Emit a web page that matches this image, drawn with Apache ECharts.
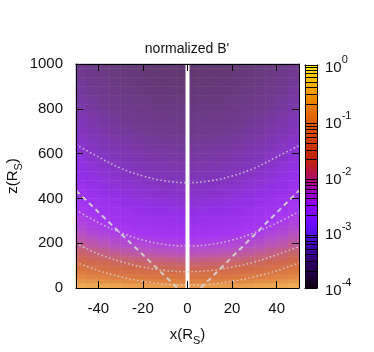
<!DOCTYPE html>
<html>
<head>
<meta charset="utf-8">
<script src="https://cdn.jsdelivr.net/npm/echarts@6/dist/echarts.min.js"></script>
<style>
  html, body { margin: 0; padding: 0; background: #fff; }
  #chart { width: 374px; height: 352px; }
</style>
</head>
<body>
<div id="chart"></div>
<script>
// heatmap cell centres (x in R_S, z in R_S)
let cellX = [-47.5, -42.5, -37.5, -32.5, -27.5, -22.5, -17.5, -12.5, -7.5, -2.5,
    2.5, 7.5, 12.5, 17.5, 22.5, 27.5, 32.5, 37.5, 42.5, 47.5];
// lift of log10(B') away from the axis, per column
let colLift = [0.24, 0.19, 0.15, 0.11, 0.08, 0.055, 0.035, 0.02, 0.008, 0.0,
    0.0, 0.008, 0.02, 0.035, 0.055, 0.08, 0.11, 0.15, 0.19, 0.24];
let cellZ = [10, 30, 50, 70, 90, 110, 130, 150, 170, 190,
    210, 230, 250, 270, 290, 310, 330, 350, 370, 390,
    410, 430, 450, 470, 490, 510, 530, 550, 570, 590,
    610, 630, 650, 670, 690, 710, 730, 750, 770, 790,
    810, 830, 850, 870, 890, 910, 930, 950, 970, 990];
// log10(B') near the axis, per row
let rowLog = [-1.40, -1.64, -1.81, -1.95, -2.06, -2.16, -2.26, -2.35, -2.43, -2.50,
    -2.56, -2.61, -2.66, -2.70, -2.74, -2.77, -2.80, -2.83, -2.86, -2.89,
    -2.92, -2.95, -2.97, -3.00, -3.02, -3.04, -3.06, -3.08, -3.10, -3.12,
    -3.14, -3.16, -3.18, -3.20, -3.22, -3.24, -3.26, -3.27, -3.29, -3.31,
    -3.33, -3.34, -3.36, -3.38, -3.39, -3.41, -3.42, -3.44, -3.45, -3.47];

// dotted contours
let contourX = [-50, -40, -30, -20, -10, 0, 10, 20, 30, 40, 50];
let contour1 = [640, 585, 535, 500, 478, 470, 478, 500, 535, 585, 636];
let contour2 = [348, 292, 247, 214, 194, 187, 194, 214, 247, 290, 341];
let contour3 = [199, 152, 118, 93, 78, 73, 78, 93, 116, 148, 185];
let contour4 = [115, 78, 50, 30, 17, 13, 17, 30, 50, 77, 112];

// dashed V lines
let leftDash = [[-50, 435], [-4.5, 0]];
let rightDash = [[6, 0], [50, 435]];
let axisLine = [[0, 0], [0, 1000]];

let xTicks = [-40, -20, 0, 20, 40];

// colorbar: log10 range and minor tick mantissas
let cbRange = [[-4, 0]];
let cbDecades = [-4, -3, -2, -1, 0];
let cbMinor = [2, 3, 4, 5, 6, 7, 8, 9];
let cbColors = ['#100010', '#200040', '#300070', '#4008b0', '#5810e8', '#7808ff', '#9000f0',
    '#a000b8', '#b01060', '#c02010', '#c83000', '#d84800', '#e06000', '#e87800',
    '#f09800', '#f8c000', '#ffee00'];

let FONT = 'Liberation Sans';

let chart = echarts.init(document.getElementById('chart'));

let heatData = [];
for (let i = 0; i < cellZ.length; i++) {
    for (let j = 0; j < cellX.length; j++) {
        heatData.push([j, i, rowLog[i] + colLift[j]]);
    }
}
let pairs = function (zs) {
    return contourX.map((x, k) => [x, zs[k]]);
};
let minorVals = [];
cbDecades.slice(0, -1).forEach(d => cbMinor.forEach(m => minorVals.push(d + Math.log10(m))));

let dotted = {type: [1.5, 2.5], width: 1.5, color: 'rgba(215,215,215,0.85)'};
let dashed = {type: [5, 4], width: 2, color: 'rgba(215,215,215,0.9)'};
let nameRich = {
    a: {fontFamily: FONT, fontSize: 15, color: '#111', lineHeight: 19, verticalAlign: 'top'},
    s: {fontFamily: FONT, fontSize: 11, color: '#111', lineHeight: 11, verticalAlign: 'bottom'}
};

let renderColorbar = function (params, api) {
    let p0 = api.coord([0, api.value(1)]);
    let p1 = api.coord([1, api.value(0)]);
    let stops = cbColors.map((c, k) => ({offset: k / (cbColors.length - 1), color: c}));
    return {
        type: 'rect',
        shape: {x: p0[0], y: p0[1], width: p1[0] - p0[0], height: p1[1] - p0[1]},
        style: {fill: new echarts.graphic.LinearGradient(0, 1, 0, 0, stops)}
    };
};

let option = {
    animation: false,
    title: {
        text: "normalized B'",
        left: 'center',
        top: 37,
        textStyle: {fontFamily: FONT, fontSize: 14, fontWeight: 'normal', color: '#111'}
    },
    grid: [
        {left: 76, right: 75, top: 64, bottom: 64, outerBoundsMode: 'none', containLabel: false},
        {left: 76, right: 75, top: 64, bottom: 64, outerBoundsMode: 'none', containLabel: false},
        {left: 305, width: 12, top: 65, bottom: 64, outerBoundsMode: 'none', containLabel: false}
    ],
    xAxis: [
        {type: 'category', gridIndex: 0, data: cellX, show: false},
        {
            type: 'value', gridIndex: 1, min: -50, max: 50, interval: 10, z: 5,
            axisLine: {onZero: false, lineStyle: {color: '#000'}},
            axisTick: {inside: true, length: 7, lineStyle: {color: '#000'}, customValues: xTicks},
            axisLabel: {fontFamily: FONT, fontSize: 15, color: '#111', margin: 13, customValues: xTicks},
            splitLine: {show: false},
            name: '{a|x(R}{s|S}{a|)}', nameLocation: 'middle', nameGap: 39,
            nameTextStyle: {rich: nameRich}
        },
        {
            type: 'value', gridIndex: 1, min: -50, max: 50, interval: 10, z: 5, position: 'top',
            axisLine: {onZero: false, lineStyle: {color: '#000'}},
            axisTick: {inside: true, length: 7, lineStyle: {color: '#000'}, customValues: xTicks},
            axisLabel: {show: false},
            splitLine: {show: false}
        },
        {
            type: 'value', gridIndex: 2, min: 0, max: 1, z: 5,
            axisLine: {show: true, onZero: false, lineStyle: {color: '#000'}},
            axisTick: {show: false}, axisLabel: {show: false}, splitLine: {show: false}
        },
        {
            type: 'value', gridIndex: 2, min: 0, max: 1, z: 5, position: 'top',
            axisLine: {show: true, onZero: false, lineStyle: {color: '#000'}},
            axisTick: {show: false}, axisLabel: {show: false}, splitLine: {show: false}
        }
    ],
    yAxis: [
        {type: 'category', gridIndex: 0, data: cellZ, show: false},
        {
            type: 'value', gridIndex: 1, min: 0, max: 1000, interval: 200, z: 5,
            axisLine: {onZero: false, lineStyle: {color: '#000'}},
            axisTick: {inside: true, length: 7, lineStyle: {color: '#000'}},
            axisLabel: {fontFamily: FONT, fontSize: 15, color: '#111', margin: 13, formatter: v => String(v)},
            splitLine: {show: false},
            name: '{a|z(R}{s|S}{a|)}', nameLocation: 'middle', nameGap: 52, nameRotate: 90,
            nameMoveOverlap: false,
            nameTextStyle: {rich: nameRich}
        },
        {
            type: 'value', gridIndex: 1, min: 0, max: 1000, interval: 200, z: 5, position: 'right',
            axisLine: {onZero: false, lineStyle: {color: '#000'}},
            axisTick: {inside: true, length: 7, lineStyle: {color: '#000'}},
            axisLabel: {show: false},
            splitLine: {show: false}
        },
        {
            type: 'value', gridIndex: 2, min: -4, max: 0, interval: 1, position: 'right', z: 5,
            axisLine: {show: true, onZero: false, lineStyle: {color: '#000'}},
            axisTick: {show: true, inside: true, length: 3, lineStyle: {color: '#000'}, customValues: minorVals},
            axisLabel: {
                margin: 8,
                formatter: v => '{b|10}{e|' + v + '}',
                rich: {
                    b: {fontFamily: FONT, fontSize: 15, color: '#111', lineHeight: 21, verticalAlign: 'bottom'},
                    e: {fontFamily: FONT, fontSize: 11, color: '#111', lineHeight: 11, verticalAlign: 'top'}
                }
            },
            splitLine: {show: true, lineStyle: {color: '#000', width: 1}}
        },
        {
            type: 'value', gridIndex: 2, min: -4, max: 0, interval: 1, position: 'left', z: 5,
            axisLine: {show: true, onZero: false, lineStyle: {color: '#000'}},
            axisTick: {show: true, inside: true, length: 3, lineStyle: {color: '#000'}, customValues: minorVals},
            axisLabel: {show: false},
            splitLine: {show: false}
        }
    ],
    visualMap: [
        {
            show: false, seriesIndex: 0, min: -3.6, max: -1.0,
            inRange: {
                color: ['#593764', '#643a76', '#703a90', '#8236bc', '#9430e8', '#a636f2', '#b652c4',
                    '#c6627c', '#d06a4c', '#d87442', '#e08644', '#e89a4c', '#eeaa54', '#f2b45a']
            }
        }
    ],
    series: [
        {
            type: 'heatmap', xAxisIndex: 0, yAxisIndex: 0, data: heatData, z: 1,
            itemStyle: {borderWidth: 0}, emphasis: {disabled: true}, progressive: 0
        },
        {type: 'line', xAxisIndex: 1, yAxisIndex: 1, data: axisLine, symbol: 'none', z: 3,
            lineStyle: {color: '#fff', width: 4}},
        {type: 'line', xAxisIndex: 1, yAxisIndex: 1, data: pairs(contour1), symbol: 'none', smooth: 0.4, z: 3, lineStyle: dotted},
        {type: 'line', xAxisIndex: 1, yAxisIndex: 1, data: pairs(contour2), symbol: 'none', smooth: 0.4, z: 3, lineStyle: dotted},
        {type: 'line', xAxisIndex: 1, yAxisIndex: 1, data: pairs(contour3), symbol: 'none', smooth: 0.4, z: 3, lineStyle: dotted},
        {type: 'line', xAxisIndex: 1, yAxisIndex: 1, data: pairs(contour4), symbol: 'none', smooth: 0.4, z: 3, lineStyle: dotted},
        {type: 'line', xAxisIndex: 1, yAxisIndex: 1, data: leftDash, symbol: 'none', z: 3, lineStyle: dashed},
        {type: 'line', xAxisIndex: 1, yAxisIndex: 1, data: rightDash, symbol: 'none', z: 3, lineStyle: dashed},
        {
            type: 'custom', xAxisIndex: 3, yAxisIndex: 3, data: cbRange, z: 1,
            renderItem: renderColorbar, silent: true
        }
    ]
};
chart.setOption(option);
</script>
</body>
</html>
